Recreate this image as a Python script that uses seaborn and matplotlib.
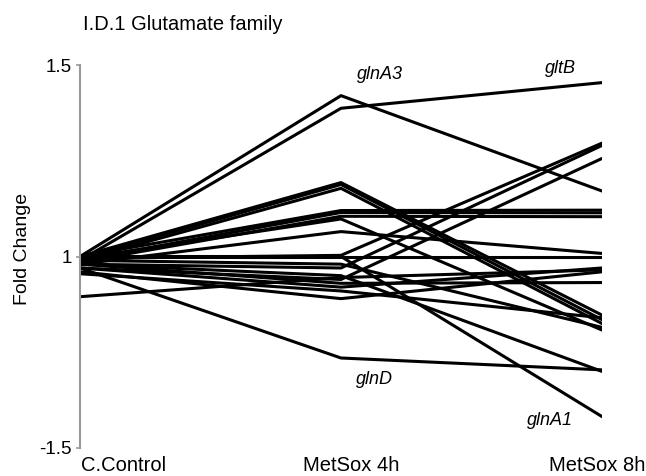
import matplotlib
matplotlib.use("Agg")
import matplotlib.pyplot as plt
import matplotlib.transforms as mtransforms
import numpy as np
import pandas as pd
import seaborn as sns

# fold change per gene (>=1 up, <=-1 down)
genes = ["glnA3", "gltB", "g03", "g04", "g05", "g06", "g07", "g08", "g09", "g10", "g11", "g12",
         "g13", "g14", "glnA1", "glnD", "g17", "g18", "g19", "g20", "g21", "g22", "g23"]
control = [1.0, -1.01, 1.0, -1.005, -1.01, 1.0, -1.01, -1.015, -1.005, -1.02, 1.0, -1.005,
           -1.02, -1.03, 1.0, -1.03, -1.02, -1.105, -1.03, -1.04, -1.02, -1.01, -1.045]
metsox_4h = [1.42, 1.387, 1.193, 1.188, 1.178, 1.12, 1.115, 1.105, 1.098, 1.065, 1.0, 1.003,
             -1.03, -1.06, 1.0, -1.265, -1.05, -1.055, -1.08, -1.11, -1.07, -1.02, -1.09]
metsox_8h = [1.171, 1.454, -1.153, -1.165, -1.175, 1.121, 1.114, 1.104, -1.192, 1.008, 1.0, 1.296,
             1.29, 1.256, -1.418, -1.296, -1.30, -1.035, -1.03, -1.04, -1.068, -1.185, -1.16]
conditions = ["C.Control", "MetSox 4h", "MetSox 8h"]
labelled = {"glnA3": (1.15, 1.474), "gltB": (1.84, 1.492), "glnD": (1.13, -1.322), "glnA1": (1.80, -1.427)}


def to_axis(fc):
    # 1 sits in the middle, +/-1.5 at the ends
    fc = np.asarray(fc, dtype=float)
    return np.sign(fc) * (np.abs(fc) - 1)


rows = []
for i, g in enumerate(genes):
    for j, vals in enumerate([control, metsox_4h, metsox_8h]):
        rows.append({"gene": g, "step": j, "fc": vals[i]})
df = pd.DataFrame(rows)
df["pos"] = to_axis(df["fc"])

sns.set_theme(style="white")
plt.rcParams["font.family"] = ["Liberation Sans", "DejaVu Sans"]
plt.rcParams["text.color"] = "black"
plt.rcParams["ytick.labelcolor"] = "black"

fig = plt.figure(figsize=(6.46, 4.76), dpi=100)
ax = fig.add_axes([80 / 646, 28 / 476, 522 / 646, 383 / 476])
sns.lineplot(data=df, x="step", y="pos", units="gene", estimator=None, color="black",
             linewidth=2.2, ax=ax, legend=False)

ax.set_xlim(0, 2)
ax.set_ylim(-0.5, 0.5)
ax.set_yticks(to_axis([-1.5, 1, 1.5]))
ax.set_yticklabels(["-1.5", "1", "1.5"], fontsize=13.5, color="black")
ax.set_xticks([])
ax.set_xlabel("")
ax.set_ylabel("")
for s in ["top", "right", "bottom"]:
    ax.spines[s].set_visible(False)
ax.spines["left"].set_color("#999999")
ax.spines["left"].set_linewidth(1.5)
ax.tick_params(axis="y", direction="out", length=3, width=1.2, color="#999999", pad=3, left=True)

trans = mtransforms.blended_transform_factory(ax.transData, ax.transAxes)
for x, name in zip([0.165, 1.038, 1.98], conditions):
    ax.text(x, -0.022, name, transform=trans, ha="center", va="top", fontsize=14.5,
            color="black", clip_on=False)

for g, (x, y) in labelled.items():
    ax.text(x, to_axis([y])[0], g, ha="center", va="center", fontsize=13, style="italic", color="black")

fig.text(83 / 646, 1 - 25 / 476, "I.D.1 Glutamate family", ha="left", va="center", fontsize=14.5, color="black")
fig.text(23 / 646, 1 - 249 / 476, "Fold Change", ha="center", va="center", rotation=90, fontsize=14, color="black")

fig.savefig("out.png", dpi=100)
